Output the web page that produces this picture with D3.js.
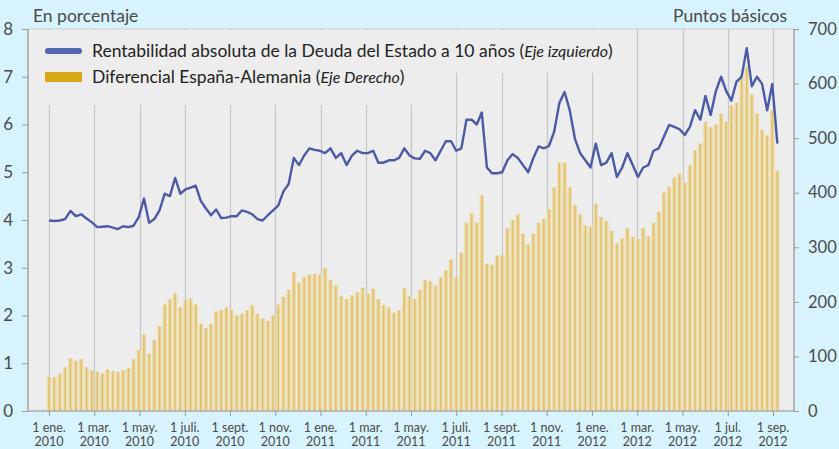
<!DOCTYPE html>
<html>
<head>
<meta charset="utf-8">
<script src="https://cdn.jsdelivr.net/npm/d3@7"></script>
<style>
  html, body { margin: 0; padding: 0; background: #d7f3fd; }
  svg { display: block; font-family: Lato, "Open Sans", sans-serif; }
</style>
</head>
<body>
<svg id="chart" width="839" height="449"></svg>
<script>
// ---- Data (weekly observations starting 1 Jan 2010) ----
const startDate = "2010-01-01";
// 10-year Spanish government bond yield, % (left axis)
const yield10y = [
  3.99, 3.98, 3.99, 4.02, 4.19, 4.08, 4.12, 4.03, 3.95, 3.85,
  3.86, 3.87, 3.84, 3.81, 3.87, 3.85, 3.88, 4.06, 4.45, 3.94,
  4.02, 4.20, 4.55, 4.50, 4.88, 4.55, 4.64, 4.68, 4.72, 4.40,
  4.24, 4.10, 4.22, 4.04, 4.05, 4.08, 4.08, 4.20, 4.17, 4.12,
  4.02, 3.99, 4.10, 4.20, 4.30, 4.60, 4.75, 5.30, 5.15, 5.35,
  5.50, 5.47, 5.45, 5.40, 5.50, 5.30, 5.40, 5.15, 5.35, 5.45,
  5.40, 5.40, 5.45, 5.20, 5.20, 5.25, 5.25, 5.30, 5.50, 5.35,
  5.29, 5.28, 5.45, 5.40, 5.25, 5.45, 5.65, 5.65, 5.45, 5.50,
  6.10, 6.10, 6.00, 6.25, 5.10, 4.98, 4.98, 5.00, 5.25, 5.38,
  5.30, 5.15, 5.00, 5.30, 5.54, 5.50, 5.55, 5.85, 6.45, 6.68,
  6.30, 5.70, 5.40, 5.25, 5.10, 5.60, 5.15, 5.20, 5.40, 4.90,
  5.10, 5.40, 5.15, 4.90, 5.10, 5.15, 5.45, 5.50, 5.75, 5.99,
  5.95, 5.90, 5.78, 5.95, 6.30, 6.10, 6.60, 6.20, 6.70, 7.00,
  6.70, 6.50, 6.90, 7.00, 7.60, 6.80, 7.00, 6.85, 6.30, 6.85,
  5.60
];
// Spain-Germany spread, basis points (right axis)
const spreadBp = [
   62,  62,  69,  80,  97,  92,  95,  80,  75,  72,
   69,  76,  73,  72,  75,  78,  95, 112, 140, 105,
  130, 155, 195, 205, 215, 190, 203, 206, 195, 160,
  152, 160, 182, 185, 190, 185, 175, 178, 185, 194,
  178, 170, 165, 175, 195, 209, 222, 255, 235, 245,
  250, 251, 250, 262, 240, 230, 210, 205, 212, 218,
  226, 215, 224, 205, 194, 190, 180, 185, 225, 210,
  205, 222, 240, 238, 230, 245, 258, 278, 245, 290,
  345, 362, 345, 395, 270, 268, 285, 285, 335, 350,
  360, 325, 305, 325, 345, 352, 370, 410, 455, 455,
  410, 378, 360, 340, 338, 380, 355, 348, 330, 307,
  316, 335, 319, 315, 335, 320, 345, 365, 400, 411,
  428, 435, 418, 450, 478, 490, 530, 520, 525, 545,
  530, 560, 565, 610, 630, 580, 545, 515, 505, 550,
  440
];
const tickDates = ["2010-01-01","2010-03-01","2010-05-01","2010-07-01","2010-09-01","2010-11-01",
                   "2011-01-01","2011-03-01","2011-05-01","2011-07-01","2011-09-01","2011-11-01",
                   "2012-01-01","2012-03-01","2012-05-01","2012-07-01","2012-09-01"];
const tickMonths = ["1 ene.","1 mar.","1 may.","1 juli.","1 sept.","1 nov.",
                    "1 ene.","1 mar.","1 may.","1 juli.","1 sept.","1 nov.",
                    "1 ene.","1 mar.","1 may.","1 jul.","1 sep."];
const tickYears = ["2010","2010","2010","2010","2010","2010",
                   "2011","2011","2011","2011","2011","2011",
                   "2012","2012","2012","2012","2012"];
const leftTicks = [0,1,2,3,4,5,6,7,8];
const rightTicks = [0,100,200,300,400,500,600,700];
const legendLabels = {
  line: ["Rentabilidad absoluta de la Deuda del Estado a 10 años (", "Eje izquierdo", ")"],
  bars: ["Diferencial España-Alemania (", "Eje Derecho", ")"]
};

// ---- Layout ----
const W = 839, H = 449;
const plot = { left: 28, right: 794, top: 29, bottom: 411 };
const firstTickX = 49, lastTickX = 773;
const colors = {
  plotBg: "#ededed", grid: "#c6c6c6", axis: "#9a9a9a",
  line: "#4a5aa6", barLight: "#ecdcad", barDark: "#dfb750",
  legendBar: "#d8a917", legendLine: "#5565b0",
  text: "#4a4a4a", legendText: "#222"
};

const parse = d3.utcParse("%Y-%m-%d");
const tDates = tickDates.map(parse);
const t0 = parse(startDate);
const dates = yield10y.map((_, i) => d3.utcDay.offset(t0, 7 * i));

const x = d3.scaleUtc()
  .domain(tDates)
  .range(tDates.map((_, i) => firstTickX + i * (lastTickX - firstTickX) / (tDates.length - 1)));
const yL = d3.scaleLinear().domain([0, 8]).range([plot.bottom, plot.top]);
const yR = d3.scaleLinear().domain([0, 700]).range([plot.bottom, plot.top]);

const svg = d3.select("#chart");

// plot background
svg.append("rect")
  .attr("x", plot.left).attr("y", plot.top)
  .attr("width", plot.right - plot.left).attr("height", plot.bottom - plot.top)
  .attr("fill", colors.plotBg).attr("stroke", "#d0d0d0").attr("stroke-width", 1);

// vertical gridlines
svg.append("g").selectAll("line").data(tDates).join("line")
  .attr("x1", d => Math.round(x(d)) + 0.5).attr("x2", d => Math.round(x(d)) + 0.5)
  .attr("y1", plot.top).attr("y2", plot.bottom)
  .attr("stroke", colors.grid).attr("stroke-width", 1.2);

// legend background boxes (hide gridlines behind legend)
svg.append("rect").attr("x", plot.left + 1).attr("y", plot.top + 1)
  .attr("width", 602).attr("height", 43).attr("fill", colors.plotBg);
svg.append("rect").attr("x", plot.left + 1).attr("y", plot.top + 43)
  .attr("width", 402).attr("height", 33).attr("fill", colors.plotBg);

// bars
const step = x(dates[1]) - x(dates[0]);
const barG = svg.append("g");
barG.selectAll("rect.l").data(spreadBp).join("rect").attr("class", "l")
  .attr("x", (d, i) => x(dates[i]) - step / 2 + 0.4)
  .attr("width", step - 0.8)
  .attr("y", d => yR(d)).attr("height", d => yR(0) - yR(d))
  .attr("fill", colors.barLight);
barG.selectAll("rect.d").data(spreadBp).join("rect").attr("class", "d")
  .attr("x", (d, i) => x(dates[i]) - 0.7)
  .attr("width", 1.4)
  .attr("y", d => yR(d)).attr("height", d => yR(0) - yR(d))
  .attr("fill", colors.barDark).attr("opacity", 0.8);

// line
svg.append("path")
  .datum(yield10y)
  .attr("fill", "none").attr("stroke", colors.line).attr("stroke-width", 2.4)
  .attr("stroke-linejoin", "round")
  .attr("d", d3.line().x((d, i) => x(dates[i])).y(d => yL(d)));

// axes lines
const axG = svg.append("g").attr("stroke", colors.axis).attr("stroke-width", 1.2);
axG.append("line").attr("x1", plot.left).attr("x2", plot.left).attr("y1", plot.top).attr("y2", plot.bottom);
axG.append("line").attr("x1", plot.right).attr("x2", plot.right).attr("y1", plot.top).attr("y2", plot.bottom);
axG.append("line").attr("x1", plot.left).attr("x2", plot.right).attr("y1", plot.bottom).attr("y2", plot.bottom);

// left axis
const leftAxis = svg.append("g").attr("transform", `translate(${plot.left},0)`)
  .call(d3.axisLeft(yL).tickValues(leftTicks).tickSize(6).tickPadding(9).tickFormat(d3.format("d")));
leftAxis.select(".domain").remove();
leftAxis.selectAll(".tick line").attr("stroke", colors.axis);
leftAxis.selectAll(".tick text").attr("fill", colors.text).style("font-size", "17px").style("font-family", "Lato, sans-serif");

// right axis
const rightAxis = svg.append("g").attr("transform", `translate(${plot.right},0)`)
  .call(d3.axisRight(yR).tickValues(rightTicks).tickSize(5).tickPadding(9).tickFormat(d3.format("d")));
rightAxis.select(".domain").remove();
rightAxis.selectAll(".tick line").attr("stroke", colors.axis);
rightAxis.selectAll(".tick text").attr("fill", colors.text).style("font-size", "16.5px").style("font-family", "Lato, sans-serif");

// bottom axis
const bottomAxis = svg.append("g").attr("transform", `translate(0,${plot.bottom})`)
  .call(d3.axisBottom(x).tickValues(tDates).tickSize(5).tickFormat(""));
bottomAxis.select(".domain").remove();
bottomAxis.selectAll(".tick line").attr("stroke", colors.axis);
const xl = svg.append("g").attr("fill", colors.text).style("font-size", "12.5px").attr("text-anchor", "middle");
xl.selectAll("text").data(tDates).join("text")
  .attr("x", d => x(d)).attr("y", plot.bottom + 21)
  .each(function (d, i) {
    const t = d3.select(this);
    t.append("tspan").attr("x", x(d)).text(tickMonths[i]);
    t.append("tspan").attr("x", x(d)).attr("dy", 14).text(tickYears[i]);
  });

// axis titles
svg.append("text").attr("x", 33).attr("y", 22).attr("fill", colors.text)
  .style("font-size", "17.5px").text("En porcentaje");
svg.append("text").attr("x", 787).attr("y", 22).attr("fill", colors.text)
  .attr("text-anchor", "end").style("font-size", "17.5px").text("Puntos básicos");

// legend
svg.append("line").attr("x1", 48).attr("x2", 79).attr("y1", 51).attr("y2", 51)
  .attr("stroke", colors.legendLine).attr("stroke-width", 6).attr("stroke-linecap", "round");
svg.append("rect").attr("x", 45).attr("y", 72).attr("width", 37).attr("height", 10)
  .attr("fill", colors.legendBar);
function legendText(yPos, parts) {
  const t = svg.append("text").attr("x", 92).attr("y", yPos).attr("fill", colors.legendText)
    .style("font-size", "17.5px");
  t.append("tspan").text(parts[0]);
  t.append("tspan").style("font-style", "italic").style("font-size", "16px").text(parts[1]);
  t.append("tspan").text(parts[2]);
}
legendText(57, legendLabels.line);
legendText(83, legendLabels.bars);
</script>
</body>
</html>
